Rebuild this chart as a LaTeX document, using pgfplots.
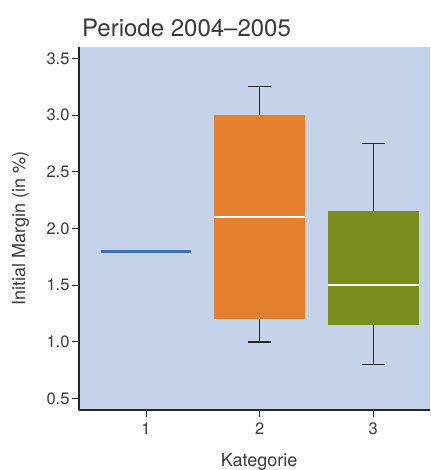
\documentclass[border=0pt]{standalone}
\usepackage{fontspec}
\setmainfont{TeX Gyre Heros}
\usepackage{pgfplots}
\pgfplotsset{compat=1.18}
\usepgfplotslibrary{statistics}
\definecolor{bgblue}{HTML}{C5D3EA}
\definecolor{boxorange}{HTML}{E58031}
\definecolor{boxgreen}{HTML}{788D1C}
\definecolor{lineblue}{HTML}{3F6EB5}
\definecolor{txt}{HTML}{3A3A3A}
\begin{document}
\begin{tikzpicture}
\begin{axis}[
  scale only axis, width=351pt, height=363pt,
  xmin=0.41, xmax=3.5, ymin=0.4, ymax=3.6,
  axis x line*=bottom, axis y line*=left,
  axis background/.style={fill=bgblue},
  axis line style={line width=1.1pt, black!85},
  tick align=outside, major tick length=7pt,
  tick style={line width=1pt, black!85},
  xtick={1,2,3}, ytick={0.5,1,1.5,2,2.5,3,3.5},
  /pgf/number format/assume math mode=true,
  tick label style={font=\fontsize{16.5}{20}\selectfont, text=txt},
  x tick label style={yshift=-2pt},
  y tick label style={xshift=1pt, /pgf/number format/.cd, fixed, fixed zerofill, precision=1},
  xlabel={Kategorie}, ylabel={Initial Margin (in \%)},
  xlabel style={font=\fontsize{18}{21}\selectfont, text=txt, at={(axis description cs:0.513,0)}, anchor=base, yshift=-56pt, inner sep=0pt},
  ylabel style={font=\fontsize{18}{21}\selectfont, text=txt, at={(axis description cs:-0.142,0.5)}, anchor=south, inner sep=0pt},
  title={Periode 2004–2005},
  every axis title shift=0pt,
  title style={font=\fontsize{24}{28}\selectfont, text=txt, at={(axis description cs:0,1)}, anchor=base west, xshift=3pt, yshift=10.5pt, inner sep=0pt},
  boxplot/draw direction=y,
  boxplot/box extend=0.8,
  boxplot/whisker extend=0.2,
]
\coordinate (bl) at (rel axis cs:0,0);
\coordinate (tr) at (rel axis cs:1,1);
% Category 1: collapsed box
\addplot[boxplot prepared={median=1.8, upper quartile=1.8, lower quartile=1.8,
  upper whisker=1.8, lower whisker=1.8, draw position=1,
  every box/.style={draw=none},
  every whisker/.style={draw=none},
  every median/.style={draw=lineblue, line width=2.7pt}}]
  coordinates {};
% Category 2
\addplot[boxplot prepared={median=2.1, upper quartile=3.0, lower quartile=1.2,
  upper whisker=3.25, lower whisker=1.0, draw position=2,
  every box/.style={draw=none, fill=boxorange},
  every whisker/.style={draw=black!85, line width=1.3pt},
  every median/.style={draw=white, line width=2.3pt}}]
  coordinates {};
% Category 3
\addplot[boxplot prepared={median=1.5, upper quartile=2.15, lower quartile=1.15,
  upper whisker=2.75, lower whisker=0.8, draw position=3,
  every box/.style={draw=none, fill=boxgreen},
  every whisker/.style={draw=black!85, line width=1.3pt},
  every median/.style={draw=white, line width=2.3pt}}]
  coordinates {};
\end{axis}
\pgfresetboundingbox
\path[use as bounding box] ([xshift=-79pt,yshift=-60pt]bl) rectangle ([yshift=47pt]tr);
\end{tikzpicture}
\end{document}
